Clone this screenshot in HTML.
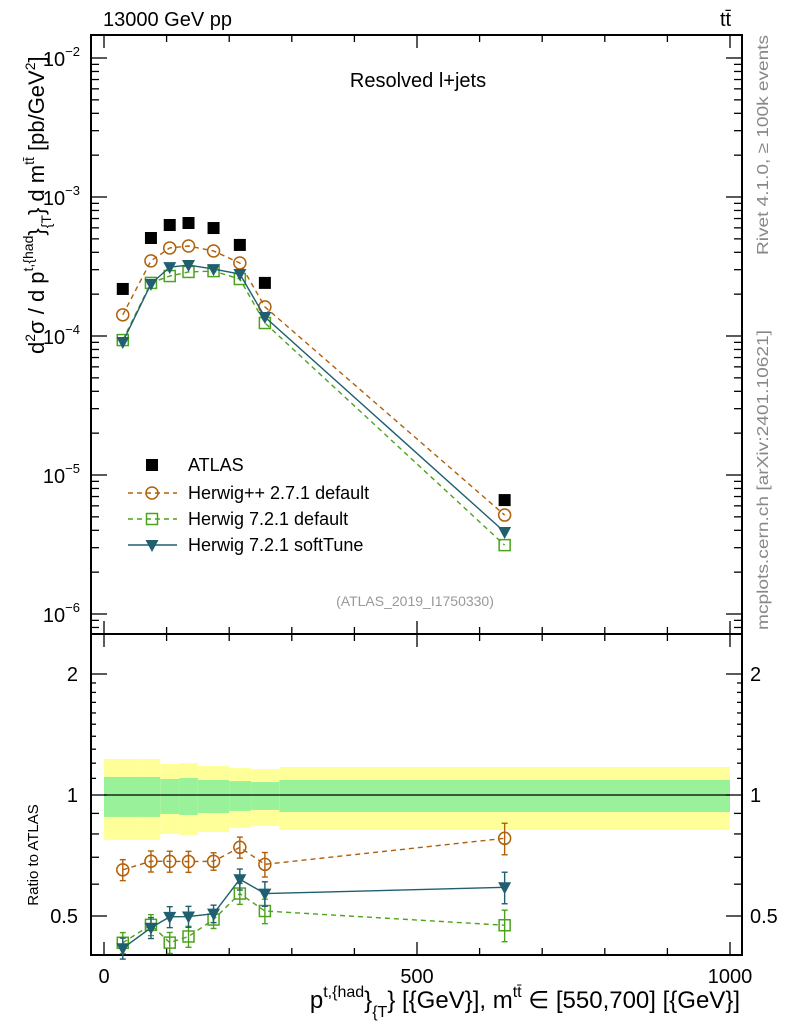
<!DOCTYPE html>
<html><head><meta charset="utf-8"><style>
html,body{margin:0;padding:0;background:#fff}
svg{display:block;font-family:"Liberation Sans",sans-serif}
</style></head><body>
<svg id="chart" width="786" height="1024" viewBox="0 0 786 1024" xmlns="http://www.w3.org/2000/svg">
<g id="bands"></g>
<g id="axes"></g>
<g id="series"></g>
<text x="103" y="26" font-size="20">13000 GeV pp</text>
<text x="720" y="26" font-size="20">tt̄</text>
<text x="418" y="87" font-size="20" text-anchor="middle">Resolved l+jets</text>
<text x="415" y="606" font-size="14" fill="#999" text-anchor="middle">(ATLAS_2019_I1750330)</text>
<text transform="translate(768,255) rotate(-90)" font-size="16" textLength="220" lengthAdjust="spacingAndGlyphs" fill="#888">Rivet 4.1.0, ≥ 100k events</text>
<text transform="translate(768,630) rotate(-90)" font-size="16" textLength="300" lengthAdjust="spacingAndGlyphs" fill="#888">mcplots.cern.ch [arXiv:2401.10621]</text>
<text transform="translate(44,354) rotate(-90)" font-size="22">d<tspan font-size="14" dy="-9">2</tspan><tspan dy="9">σ / d p</tspan><tspan font-size="14" dy="-11">t,{had</tspan><tspan dy="11">}</tspan><tspan font-size="14" dy="7">{T</tspan><tspan dy="-7">} d m</tspan><tspan font-size="14" dy="-10">tt̄</tspan><tspan dy="10"> [pb/GeV</tspan><tspan font-size="14" dy="-9">2</tspan><tspan dy="9">]</tspan></text>
<text transform="translate(38,855) rotate(-90)" font-size="15" text-anchor="middle">Ratio to ATLAS</text>
<text x="740" y="1008" font-size="24" text-anchor="end">p<tspan font-size="16" dy="-11">t,{had</tspan><tspan dy="11">}</tspan><tspan font-size="16" dy="9">{T</tspan><tspan dy="-9">} [{GeV}], m</tspan><tspan font-size="16" dy="-11">tt̄</tspan><tspan dy="11"> ∈ [550,700] [{GeV}]</tspan></text>
<g id="legend"></g>
</svg>
<script>
const binEdges=[0,60,90,120,150,200,235,280,1000];
const binCenters=[30,75,105,135,175,217,257,640];
const atlas=[2.18e-4,5.07e-4,6.29e-4,6.50e-4,5.98e-4,4.52e-4,2.41e-4,6.6e-6];
const herwigpp=[1.42e-4,3.47e-4,4.30e-4,4.44e-4,4.09e-4,3.35e-4,1.62e-4,5.15e-6];
const herwig721=[9.35e-5,2.41e-4,2.70e-4,2.89e-4,2.93e-4,2.57e-4,1.24e-4,3.13e-6];
const softTune=[9.06e-5,2.37e-4,3.13e-4,3.24e-4,3.03e-4,2.79e-4,1.37e-4,3.89e-6];
const mcRelErr=[0.06,0.06,0.06,0.06,0.05,0.06,0.07,0.09];
const yellowUp=[1.229,1.229,1.194,1.201,1.181,1.167,1.160,1.174];
const greenUp=[1.109,1.109,1.096,1.102,1.090,1.083,1.077,1.090];
const greenLo=[0.882,0.882,0.897,0.892,0.902,0.913,0.918,0.907];
const yellowLo=[0.773,0.773,0.800,0.795,0.809,0.828,0.837,0.818];
const xTicks=[0,500,1000];
const mainTicks=[-6,-5,-4,-3,-2];
const ratioTicks=[0.5,1,2];

const NS="http://www.w3.org/2000/svg";
const L=91,R=742,T=35,M=634,B=955;
const X=v=>104+0.626*v;
const YM=v=>197-139*(Math.log10(v)+3);
const YR=v=>795-121*Math.log2(v);
function mk(tag,attrs,parent){const e=document.createElementNS(NS,tag);for(const k in attrs)e.setAttribute(k,attrs[k]);parent.appendChild(e);return e;}
const axes=document.getElementById('axes'),bands=document.getElementById('bands'),ser=document.getElementById('series'),leg=document.getElementById('legend');

for(let i=0;i<binCenters.length;i++){
  const x0=X(binEdges[i]),x1=X(binEdges[i+1]);
  let r=mk('rect',{x:x0,y:YR(yellowUp[i]),width:x1-x0,height:YR(yellowLo[i])-YR(yellowUp[i]),fill:'#ffff99'},bands);
  
  
  r=mk('rect',{x:x0,y:YR(greenUp[i]),width:x1-x0,height:YR(greenLo[i])-YR(greenUp[i]),fill:'#99f299'},bands);
  
  
}
let one=mk('line',{x1:X(0),x2:X(1000),y1:YR(1),y2:YR(1),stroke:'#000','stroke-width':1.3},bands);



let f=mk('rect',{x:L,y:T,width:R-L,height:M-T,fill:'none',stroke:'#000','stroke-width':2},axes);


f=mk('rect',{x:L,y:M,width:R-L,height:B-M,fill:'none',stroke:'#000','stroke-width':2},axes);


function tick(x1,y1,x2,y2){mk('line',{x1,y1,x2,y2,stroke:'#000','stroke-width':1.3},axes);}
for(let v=0;v<=1000;v+=100){const x=X(v),len=(v%500===0)?13:7;
  for(const y0 of [T,M]){tick(x,y0,x,y0+len);}
  for(const y0 of [M,B]){tick(x,y0,x,y0-len);}
}
for(const v of xTicks){const t=mk('text',{x:X(v),y:983,'font-size':20,'text-anchor':'middle'},axes);t.textContent=v;
  
  }
for(let d=-7;d<=-2;d++){for(let m=1;m<10;m++){const v=m*Math.pow(10,d);const y=YM(v);if(y<T||y>M)continue;const len=m===1?16:8;tick(L,y,L+len,y);tick(R,y,R-len,y);}}
for(const d of mainTicks){const t=mk('text',{x:80,y:YM(Math.pow(10,d))+8,'font-size':20,'text-anchor':'end'},axes);
  
  
  t.innerHTML='10<tspan font-size="13" dy="-10">'+'\u2212'+(-d)+'</tspan>';}
const rMinor=[0.4,0.5,0.6,0.7,0.8,0.9,1,2];
for(const v of rMinor){const y=YR(v);if(y>B)continue;const len=(v===0.5||v===1||v===2)?16:8;tick(L,y,L+len,y);tick(R,y,R-len,y);}
for(let v=1.1;v<2;v+=0.1){const y=YR(v);tick(L,y,L+5,y);tick(R,y,R-5,y);}
for(const v of ratioTicks){const y=YR(v)+7;
  let t=mk('text',{x:78,y,'font-size':20,'text-anchor':'end'},axes);t.textContent=v;
  
  
  t=mk('text',{x:750,y,'font-size':20},axes);t.textContent=v;
  
  }

function marker(type,x,y,col,parent){
  if(type==='sq-fill')return mk('rect',{x:x-6,y:y-6,width:12,height:12,fill:'#000'},parent);
  if(type==='circle')return mk('circle',{cx:x,cy:y,r:6,fill:'none',stroke:col,'stroke-width':1.5},parent);
  if(type==='square')return mk('rect',{x:x-5.5,y:y-5.5,width:11,height:11,fill:'none',stroke:col,'stroke-width':1.5},parent);
  return mk('path',{d:`M${x-6.5},${y-5}L${x+6.5},${y-5}L${x},${y+7}Z`,fill:col},parent);
}
const series=[
  {name:'herwigpp',vals:herwigpp,col:'#b0600a',dash:'5,4',type:'circle'},
  {name:'herwig721',vals:herwig721,col:'#4da21c',dash:'5,4',type:'square'},
  {name:'softtune',vals:softTune,col:'#1f5f70',dash:'',type:'tri'}];
for(const s of series){
  const g=mk('g',{},ser);
  
  
  const ptsM=s.vals.map((v,i)=>X(binCenters[i])+','+YM(v)).join(' ');
  const ptsR=s.vals.map((v,i)=>X(binCenters[i])+','+YR(v/atlas[i])).join(' ');
  mk('polyline',{points:ptsM,fill:'none',stroke:s.col,'stroke-width':1.4,'stroke-dasharray':s.dash},g);
  mk('polyline',{points:ptsR,fill:'none',stroke:s.col,'stroke-width':1.4,'stroke-dasharray':s.dash},g);
  s.vals.forEach((v,i)=>{const x=X(binCenters[i]);const r=v/atlas[i],e=mcRelErr[i];
    const y1=YR(r*(1+e)),y2=YR(r*(1-e));
    mk('line',{x1:x,x2:x,y1,y2,stroke:s.col,'stroke-width':1.4},g);
    mk('line',{x1:x-3,x2:x+3,y1,y2:y1,stroke:s.col,'stroke-width':1.4},g);
    mk('line',{x1:x-3,x2:x+3,y1:y2,y2,stroke:s.col,'stroke-width':1.4},g);
    let m=marker(s.type,x,YM(v),s.col,g);
    
    
    m=marker(s.type,x,YR(r),s.col,g);
    
    
  });
}
const ga=mk('g',{},ser);


atlas.forEach((v,i)=>{const m=marker('sq-fill',X(binCenters[i]),YM(v),'#000',ga);
  
  });

const legItems=[['ATLAS','sq-fill','#000',''],['Herwig++ 2.7.1 default','circle','#b0600a','5,4'],['Herwig 7.2.1 default','square','#4da21c','5,4'],['Herwig 7.2.1 softTune','tri','#1f5f70','']];
const legY=[465,493,519,545];
legItems.forEach((it,i)=>{const g=mk('g',{},leg);
  
  
  const y=legY[i];
  if(i>0)mk('line',{x1:128,x2:177,y1:y,y2:y,stroke:it[2],'stroke-width':1.4,'stroke-dasharray':it[3]},g);
  marker(it[1],152,y,it[2],g);
  const t=mk('text',{x:188,y:y+6,'font-size':18},g);t.textContent=it[0];});
</script>
</body></html>
